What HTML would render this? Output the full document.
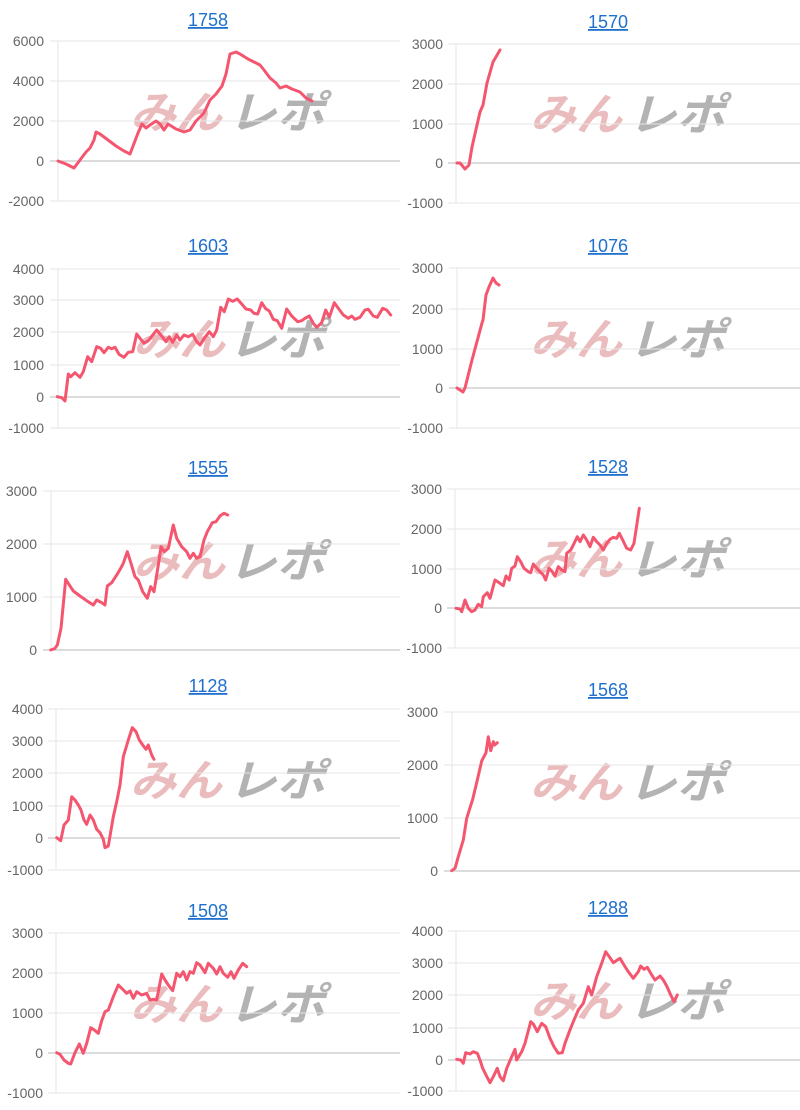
<!DOCTYPE html>
<html><head><meta charset="utf-8"><style>
html,body{margin:0;padding:0;background:#fff;}
svg{display:block;}
.t{font:18px "Liberation Sans",sans-serif;fill:#1f6fcf;text-anchor:middle;text-decoration:underline;}
.l{font:14px "Liberation Sans",sans-serif;fill:#666;text-anchor:end;}
.g{stroke:#e6e6e6;stroke-width:1;}
.z{stroke:#c8c8c8;stroke-width:1.2;}
.d{fill:none;stroke:#f4566f;stroke-width:3;stroke-linejoin:round;stroke-linecap:round;}
.wp{font:bold italic 44px "Liberation Sans","Noto Sans CJK JP",sans-serif;fill:#ebbcbd;}
.wg{font:bold italic 44px "Liberation Sans","Noto Sans CJK JP",sans-serif;fill:#b3b3b3;}
</style></head><body>
<svg width="800" height="1110" viewBox="0 0 800 1110" xmlns="http://www.w3.org/2000/svg">
<g>
<text class="wp" x="130" y="128" textLength="92" lengthAdjust="spacingAndGlyphs">みん</text><text class="wg" x="228" y="128" textLength="97" lengthAdjust="spacingAndGlyphs">レポ</text>
<text class="wp" x="530" y="130" textLength="92" lengthAdjust="spacingAndGlyphs">みん</text><text class="wg" x="628" y="130" textLength="97" lengthAdjust="spacingAndGlyphs">レポ</text>
<text class="wp" x="133" y="355" textLength="92" lengthAdjust="spacingAndGlyphs">みん</text><text class="wg" x="228" y="355" textLength="97" lengthAdjust="spacingAndGlyphs">レポ</text>
<text class="wp" x="530" y="355" textLength="92" lengthAdjust="spacingAndGlyphs">みん</text><text class="wg" x="628" y="355" textLength="97" lengthAdjust="spacingAndGlyphs">レポ</text>
<text class="wp" x="133" y="577" textLength="92" lengthAdjust="spacingAndGlyphs">みん</text><text class="wg" x="228" y="577" textLength="97" lengthAdjust="spacingAndGlyphs">レポ</text>
<text class="wp" x="530" y="575" textLength="92" lengthAdjust="spacingAndGlyphs">みん</text><text class="wg" x="628" y="575" textLength="97" lengthAdjust="spacingAndGlyphs">レポ</text>
<text class="wp" x="130" y="796" textLength="92" lengthAdjust="spacingAndGlyphs">みん</text><text class="wg" x="228" y="796" textLength="97" lengthAdjust="spacingAndGlyphs">レポ</text>
<text class="wp" x="530" y="798" textLength="92" lengthAdjust="spacingAndGlyphs">みん</text><text class="wg" x="628" y="798" textLength="97" lengthAdjust="spacingAndGlyphs">レポ</text>
<text class="wp" x="130" y="1020" textLength="92" lengthAdjust="spacingAndGlyphs">みん</text><text class="wg" x="228" y="1020" textLength="97" lengthAdjust="spacingAndGlyphs">レポ</text>
<text class="wp" x="530" y="1017" textLength="92" lengthAdjust="spacingAndGlyphs">みん</text><text class="wg" x="628" y="1017" textLength="97" lengthAdjust="spacingAndGlyphs">レポ</text>
</g>

<text class="t" x="208" y="26">1758</text>
<line class="g" x1="58" y1="41" x2="58" y2="201"/>
<line class="g" x1="50" y1="41" x2="400" y2="41"/><line class="g" x1="50" y1="81" x2="400" y2="81"/><line class="g" x1="50" y1="121" x2="400" y2="121"/><line class="z" x1="50" y1="161" x2="400" y2="161"/><line class="g" x1="50" y1="201" x2="400" y2="201"/>
<text class="l" x="44" y="46">6000</text><text class="l" x="44" y="86">4000</text><text class="l" x="44" y="126">2000</text><text class="l" x="44" y="166">0</text><text class="l" x="44" y="206">-2000</text>
<polyline class="d" points="58,161 66,164 74,168 80,160 86,152 90,148 94,140 96,132 100,134 108,140 116,146 124,151 130,154 138,133 142,124 146,128 150,125 156,121 160,124 164,130 168,124 176,129 184,132 190,130 196,121 204,113 210,100 216,94 222,86 226,74 230,54 236,52 240,54 248,59 254,62 260,65 264,70 270,78 276,83 280,88 286,86 292,89 300,92 306,98 312,101"/>

<text class="t" x="608" y="28">1570</text>
<line class="g" x1="456" y1="44" x2="456" y2="203"/>
<line class="g" x1="448" y1="44" x2="800" y2="44"/><line class="g" x1="448" y1="84" x2="800" y2="84"/><line class="g" x1="448" y1="124" x2="800" y2="124"/><line class="z" x1="448" y1="163" x2="800" y2="163"/><line class="g" x1="448" y1="203" x2="800" y2="203"/>
<text class="l" x="443" y="49">3000</text><text class="l" x="443" y="89">2000</text><text class="l" x="443" y="129">1000</text><text class="l" x="443" y="168">0</text><text class="l" x="443" y="208">-1000</text>
<polyline class="d" points="457,163 460,163 465,169 469,165 472,147 480,112 483,105 487,83 493,62 500,50"/>

<text class="t" x="208" y="252">1603</text>
<line class="g" x1="58" y1="269" x2="58" y2="428"/>
<line class="g" x1="50" y1="269" x2="400" y2="269"/><line class="g" x1="50" y1="300" x2="400" y2="300"/><line class="g" x1="50" y1="332" x2="400" y2="332"/><line class="g" x1="50" y1="365" x2="400" y2="365"/><line class="z" x1="50" y1="397" x2="400" y2="397"/><line class="g" x1="50" y1="428" x2="400" y2="428"/>
<text class="l" x="44" y="274">4000</text><text class="l" x="44" y="305">3000</text><text class="l" x="44" y="337">2000</text><text class="l" x="44" y="370">1000</text><text class="l" x="44" y="402">0</text><text class="l" x="44" y="433">-1000</text>
<polyline class="d" points="57.3,396.7 61.7,397.7 65,401 68.3,374 70.7,376.7 75,372.7 80,377.3 83.3,371.7 87.7,356.7 91.7,361.7 96.7,346.7 100.7,348.3 104,352.7 108.3,347.3 111.7,348.7 115,347.3 119,354.3 124,357.3 128.3,352.3 132.7,351.7 136.7,334 140,338.3 144,343.3 148.3,340.7 156.7,330 162.7,337.3 166,341.7 169.3,336.7 172.7,342.3 176.7,335 180,340 184,335 188.3,336.7 192.7,334.3 196.7,341.7 200,345 205,337.3 209.3,331.7 213.3,336.7 216.7,330 220.7,307.3 224.3,311.7 228.3,299 232.7,301.3 237.3,299 241.7,304 246,309 250.7,310 254,313.3 257.7,314 261.7,302.7 265.7,308.7 269.3,311 273.3,319.3 277.3,320.7 281.7,328.3 286.7,309 291.7,316 297.7,321.7 301.7,320.7 305,318.3 309.3,316 313.3,323.3 316.7,327.3 321.7,322.7 325.7,310 329.3,317.3 334.3,302.7 338.3,308.3 343.3,315 348.3,318.3 351.7,316 355,319.3 360,317.3 365,310 368.3,309.3 373.3,316 377.3,317.3 382.7,308.3 386.7,310 390.7,315"/>

<text class="t" x="608" y="252">1076</text>
<line class="g" x1="457" y1="268" x2="457" y2="428"/>
<line class="g" x1="449" y1="268" x2="800" y2="268"/><line class="g" x1="449" y1="309" x2="800" y2="309"/><line class="g" x1="449" y1="349" x2="800" y2="349"/><line class="z" x1="449" y1="388" x2="800" y2="388"/><line class="g" x1="449" y1="428" x2="800" y2="428"/>
<text class="l" x="443" y="273">3000</text><text class="l" x="443" y="314">2000</text><text class="l" x="443" y="354">1000</text><text class="l" x="443" y="393">0</text><text class="l" x="443" y="433">-1000</text>
<polyline class="d" points="457,388 463,392 465,388 472,360 482,323 483,320 486,295 489,287 493,278 496,283 499,285"/>

<text class="t" x="208" y="474">1555</text>
<line class="g" x1="51" y1="491" x2="51" y2="650"/>
<line class="g" x1="43" y1="491" x2="400" y2="491"/><line class="g" x1="43" y1="544" x2="400" y2="544"/><line class="g" x1="43" y1="597" x2="400" y2="597"/><line class="z" x1="43" y1="650" x2="400" y2="650"/>
<text class="l" x="37" y="496">3000</text><text class="l" x="37" y="549">2000</text><text class="l" x="37" y="602">1000</text><text class="l" x="37" y="655">0</text>
<polyline class="d" points="50.7,650 55,648.3 57.3,645 61,628.3 65.7,579.3 70,586 73.3,591 80,596 86.7,600.7 93.3,605 96.7,600 101.7,602.7 105,605 107.3,586 111.7,582.7 116.7,575 120.7,568.3 123.3,563.3 127.3,551.7 131,563.3 135,576.7 138.3,580 142.7,591.7 147.3,598.3 150.7,586.7 154,591.7 158.3,565 161,546.7 164.3,551.7 168.3,548.3 173.3,525 176.7,538.3 181.7,546.7 186.7,551.7 190,558.3 193.3,553.3 196.7,558.3 200,556.7 204,540 207.3,531.7 212.3,522.7 216,521.7 220,516 224,513.3 227.7,515"/>

<text class="t" x="608" y="473">1528</text>
<line class="g" x1="455" y1="489" x2="455" y2="648"/>
<line class="g" x1="447" y1="489" x2="800" y2="489"/><line class="g" x1="447" y1="529" x2="800" y2="529"/><line class="g" x1="447" y1="569" x2="800" y2="569"/><line class="z" x1="447" y1="608" x2="800" y2="608"/><line class="g" x1="447" y1="648" x2="800" y2="648"/>
<text class="l" x="442" y="494">3000</text><text class="l" x="442" y="534">2000</text><text class="l" x="442" y="574">1000</text><text class="l" x="442" y="613">0</text><text class="l" x="442" y="653">-1000</text>
<polyline class="d" points="456,608.3 460,609 461.7,611.7 465,600 468.3,608.3 471.7,611.7 475,610 478.3,604.3 481.7,606.7 483.3,596.7 487.3,592.7 490,598.3 495,580 500,583.3 503.3,585.7 506,576 509.3,580 511.7,568.3 515,566 517.3,556.7 520.7,561.7 524,568.3 528.3,571.7 530.7,572.7 533.3,564 536.7,568.3 540,571.7 543.3,575 545.7,580 549,568.3 552.3,571.7 555,576 558.3,566.7 561.7,570 565,571.7 566.7,553.3 570.7,550 573.3,545 577.3,536.7 580,541.7 583.3,535 586.7,540 590,546.7 593.3,537.3 596.7,541.7 600,545 603.3,550 606.7,543.3 610,539.3 613.3,537.3 616.7,538.3 619.3,533.3 622.7,540 626.7,548.3 630.7,550 634,543.3 639.3,508.3"/>

<text class="t" x="208" y="692">1128</text>
<line class="g" x1="56" y1="709" x2="56" y2="870"/>
<line class="g" x1="48" y1="709" x2="400" y2="709"/><line class="g" x1="48" y1="741" x2="400" y2="741"/><line class="g" x1="48" y1="773" x2="400" y2="773"/><line class="g" x1="48" y1="806" x2="400" y2="806"/><line class="z" x1="48" y1="838" x2="400" y2="838"/><line class="g" x1="48" y1="870" x2="400" y2="870"/>
<text class="l" x="43" y="714">4000</text><text class="l" x="43" y="746">3000</text><text class="l" x="43" y="778">2000</text><text class="l" x="43" y="811">1000</text><text class="l" x="43" y="843">0</text><text class="l" x="43" y="875">-1000</text>
<polyline class="d" points="56.7,837.7 60.7,840.7 64,825 68.3,820 71.7,796.7 75,800 78.3,805 81,810 84,820 86.7,824.3 90,815 93.3,820 96.7,829.3 100,832.7 103.3,839.3 105,847.7 108.3,846 113.3,816.7 116.7,801.7 120,785 123.3,756.7 128.3,740 132.3,727.7 136,731.7 139.3,740 142.7,745 146,749.3 148.3,745 151.7,755 154,759.3"/>

<text class="t" x="608" y="696">1568</text>
<line class="g" x1="452" y1="712" x2="452" y2="871"/>
<line class="g" x1="444" y1="712" x2="800" y2="712"/><line class="g" x1="444" y1="765" x2="800" y2="765"/><line class="g" x1="444" y1="818" x2="800" y2="818"/><line class="z" x1="444" y1="871" x2="800" y2="871"/>
<text class="l" x="438" y="717">3000</text><text class="l" x="438" y="770">2000</text><text class="l" x="438" y="823">1000</text><text class="l" x="438" y="876">0</text>
<polyline class="d" points="451.7,870.7 455,868.3 458.3,856.7 463.3,840 466.7,818.3 469.3,810 472.7,799.3 477.3,780 481.7,761 486,752.7 488.3,736.7 490.7,750.7 493.3,741.7 494.7,745 497.3,742.7"/>

<text class="t" x="208" y="917">1508</text>
<line class="g" x1="56" y1="933" x2="56" y2="1093"/>
<line class="g" x1="48" y1="933" x2="400" y2="933"/><line class="g" x1="48" y1="973" x2="400" y2="973"/><line class="g" x1="48" y1="1013" x2="400" y2="1013"/><line class="z" x1="48" y1="1053" x2="400" y2="1053"/><line class="g" x1="48" y1="1093" x2="400" y2="1093"/>
<text class="l" x="43" y="938">3000</text><text class="l" x="43" y="978">2000</text><text class="l" x="43" y="1018">1000</text><text class="l" x="43" y="1058">0</text><text class="l" x="43" y="1098">-1000</text>
<polyline class="d" points="56.7,1052.7 60,1054.3 64,1060 68.3,1063.3 70.7,1064 75,1052.7 79.3,1044 83.3,1053.3 86.7,1043.3 90.7,1027.7 94.3,1030 98.3,1033.3 101.7,1020.7 105,1011.7 108.3,1010 113.3,996.7 118.3,985 122.7,989.3 126.7,993.3 130,991 133.3,998.3 136.7,991.7 141.7,995 146.7,993.3 150,1000 153.3,999.3 156.7,1000 161.7,974 165,980 168.3,985 172.7,990.7 176.7,973.3 180,976.7 183.3,971.7 186.7,980 190,971.7 193.3,973.3 196.7,962.7 200,965 205,972.7 208.3,963.3 213.3,968.3 216.7,974 220,966.7 223.3,973.3 227.7,977.3 231,971.7 234,978.3 238.3,970 242.7,963.3 246.7,966.7"/>

<text class="t" x="608" y="914">1288</text>
<line class="g" x1="456" y1="931" x2="456" y2="1091"/>
<line class="g" x1="448" y1="931" x2="800" y2="931"/><line class="g" x1="448" y1="963" x2="800" y2="963"/><line class="g" x1="448" y1="995" x2="800" y2="995"/><line class="g" x1="448" y1="1028" x2="800" y2="1028"/><line class="z" x1="448" y1="1060" x2="800" y2="1060"/><line class="g" x1="448" y1="1091" x2="800" y2="1091"/>
<text class="l" x="443" y="936">4000</text><text class="l" x="443" y="968">3000</text><text class="l" x="443" y="1000">2000</text><text class="l" x="443" y="1033">1000</text><text class="l" x="443" y="1065">0</text><text class="l" x="443" y="1096">-1000</text>
<polyline class="d" points="456.7,1059.3 460.7,1060 463.3,1063.3 465.7,1052.7 470,1054 473.3,1051.7 477.3,1053.3 480,1060 482.7,1068.3 486,1075 490,1082.7 493.3,1076.7 497.3,1068.3 500,1076.7 503.3,1080.7 506.7,1068.3 511.7,1056.7 515,1049.3 516.7,1060 521.7,1051.7 525,1043.3 530.7,1021.7 533.3,1024 537.3,1031.7 541.7,1023.3 545.7,1026.7 550,1038.3 554,1046.7 558.3,1053.3 562.3,1052.7 565,1043.3 569.3,1031.7 573.3,1021.7 578.3,1010 583.3,1003.3 588.3,986.7 591.7,995 596.7,976.7 601.7,963.3 605.7,951.7 609.3,956.7 613.3,962.7 617.3,960 620,958.3 624,965 628.3,971.7 633.3,978.3 638.3,971.7 640.7,966 644,969.3 647.3,967.3 650.7,973.3 655,980 660,976 663.3,980 666.7,986 670.7,995 674,1001.7 677.3,995"/>
</svg>
</body></html>
